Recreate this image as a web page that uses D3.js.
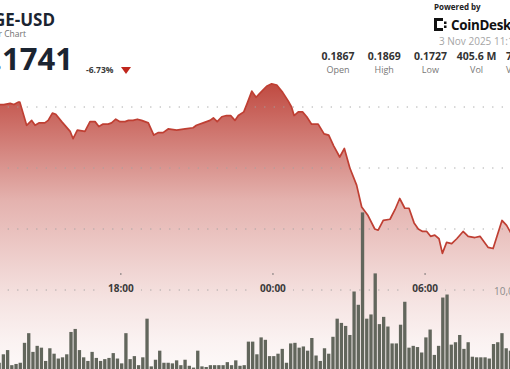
<!DOCTYPE html>
<html>
<head>
<meta charset="utf-8">
<script src="https://cdn.jsdelivr.net/npm/d3@7"></script>
<style>
  html, body { margin: 0; padding: 0; background: #fff; overflow: hidden; }
  svg { display: block; font-family: "Open Sans", "Noto Sans", sans-serif; }
</style>
</head>
<body>
<div id="chart"></div>
<script>
// DOGE-USD 24 hour chart, visible window only.

const priceTimesNov2 = [
    '13:14', '13:23', '13:38', '13:47', '13:57', '14:01', '14:17', '14:29', '14:37', '14:47',
    '15:00', '15:08', '15:18', '15:26', '15:40', '16:00', '16:07', '16:17', '16:35', '16:47',
    '16:59', '17:08', '17:18', '17:30', '17:38', '17:48', '17:58', '18:10', '18:18', '18:29',
    '18:39', '18:49', '19:05', '19:18', '19:29', '19:40', '19:52', '20:12', '20:32', '20:51',
    '20:59', '21:15', '21:31', '21:39', '21:48', '21:59', '22:10', '22:20', '22:30', '22:38',
    '22:51', '22:59', '23:10', '23:20', '23:31', '23:45', '23:57'
];
const priceTimesNov3 = [
    '00:09', '00:23', '00:36',
    '00:44', '00:50', '01:00', '01:10', '01:20', '01:31', '01:47', '02:01', '02:12', '02:24',
    '02:38', '02:49', '03:02', '03:18', '03:30', '03:45', '04:01', '04:09', '04:21', '04:37',
    '04:49', '05:00', '05:12', '05:22', '05:34', '05:44', '05:54', '06:04', '06:13', '06:23',
    '06:33', '06:41', '06:51', '07:03', '07:15', '07:30', '07:42', '07:58', '08:10', '08:29',
    '08:41', '09:02', '09:13', '09:21', '09:32'
];
const prices = [
    0.1852, 0.1852, 0.1853, 0.1852, 0.1854, 0.1854, 0.1835, 0.1839, 0.1835, 0.1837,
    0.1837, 0.1839, 0.1845, 0.1844, 0.1838, 0.1830, 0.1824, 0.1831, 0.1830, 0.1838,
    0.1838, 0.1834, 0.1836, 0.1836, 0.1837, 0.1840, 0.1838, 0.1838, 0.1839, 0.1839,
    0.1840, 0.1839, 0.1837, 0.1827, 0.1829, 0.1829, 0.1832, 0.1831, 0.1832, 0.1833,
    0.1835, 0.1837, 0.1839, 0.1841, 0.1838, 0.1842, 0.1843, 0.1843, 0.1839, 0.1843,
    0.1846, 0.1853, 0.1863, 0.1858, 0.1862, 0.1867, 0.1869, 0.1868, 0.1862, 0.1855,
    0.1850, 0.1843, 0.1846, 0.1846, 0.1842, 0.1836, 0.1836, 0.1828, 0.1827, 0.1818,
    0.1809, 0.1816, 0.1800, 0.1786, 0.1768, 0.1761, 0.1750, 0.1749, 0.1757, 0.1758,
    0.1766, 0.1775, 0.1767, 0.1767, 0.1755, 0.1750, 0.1748, 0.1748, 0.1744, 0.1745,
    0.1742, 0.1730, 0.1739, 0.1738, 0.1742, 0.1748, 0.1744, 0.1743, 0.1744, 0.1735,
    0.1734, 0.1757, 0.1753, 0.1748, 0.1741
];

// Volume per 10 minute bar (millions), first bar at 13:12.
const volumeStart = '2025-11-02 13:12';
const volumes = [
    1.2, 2.6, 3.3, 0.8, 1.0, 1.2, 4.5, 6.1, 3.0, 4.0, 3.7, 1.5, 3.6, 2.7, 1.9, 2.1, 2.6, 6.3, 6.8, 3.3,
    2.1, 1.5, 3.0, 2.0, 1.5, 1.8, 2.0, 2.8, 1.9, 1.1, 6.1, 1.8, 2.3, 0.8, 2.1, 8.5, 0.6, 1.7, 3.2, 1.2,
    1.2, 1.1, 1.6, 0.8, 1.7, 0.7, 0.4, 3.2, 0.6, 0.5, 0.8, 0.8, 0.8, 0.8, 1.3, 0.8, 1.6, 0.7, 0.8, 4.7,
    4.7, 2.6, 5.4, 5.0, 2.3, 2.3, 2.7, 3.5, 1.2, 4.4, 4.5, 3.7, 3.9, 3.2, 5.3, 2.4, 1.5, 3.6, 2.7, 5.5,
    8.5, 7.8, 7.3, 5.8, 13.0, 10.8, 26.1, 8.5, 9.2, 16.0, 7.6, 8.8, 7.2, 4.4, 4.4, 7.5, 11.3, 3.7, 4.0, 3.8,
    2.9, 5.4, 6.7, 2.5, 4.0, 12.0, 12.5, 4.2, 4.6, 5.8, 3.5, 4.6, 2.2, 2.1, 2.1, 2.1, 1.9, 4.3, 4.6, 6.1,
    3.6, 3.2
];

const priceGrid = [0.170, 0.175, 0.180, 0.185];
const timeTicks = ['2025-11-02 18:00', '2025-11-03 00:00', '2025-11-03 06:00'];
const stats = [
    { value: '0.1867', label: 'Open' },
    { value: '0.1869', label: 'High' },
    { value: '0.1727', label: 'Low' },
    { value: '405.6 M', label: 'Vol' },
    { value: '72.9 M', label: 'Vol USD' }
];

const width = 510;
const height = 369;
const parse = d3.utcParse('%Y-%m-%d %H:%M');

const priceData = priceTimesNov2.map(t => '2025-11-02 ' + t)
    .concat(priceTimesNov3.map(t => '2025-11-03 ' + t))
    .map((t, i) => ({ time: parse(t), price: prices[i] }));

const start = parse(volumeStart);
const volumeData = volumes.map((v, i) => ({ time: d3.utcMinute.offset(start, i * 10), vol: v }));

// Scales.
const x = d3.scaleUtc()
    .domain([parse('2025-11-02 13:14'), parse('2025-11-03 09:21')])
    .range([0, width]);
const y = d3.scaleLinear().domain([0.170, 0.185]).range([290, 107]);
const yVol = d3.scaleLinear().domain([0, 26]).range([370, 213]);

const svg = d3.select('#chart')
    .append('svg')
    .attr('width', width)
    .attr('height', height);

// Area gradient.
const grad = svg.append('defs').append('linearGradient')
    .attr('id', 'fade')
    .attr('gradientUnits', 'userSpaceOnUse')
    .attr('x1', 0).attr('x2', 0)
    .attr('y1', 83).attr('y2', 370);
[[0, 0.92], [0.41, 0.39], [0.76, 0.14], [0.9, 0.065], [1, 0.03]].forEach(s => {
    grad.append('stop')
        .attr('offset', s[0])
        .attr('stop-color', 'rgb(186,58,48)')
        .attr('stop-opacity', s[1]);
});

// Price area and line.
const area = d3.area()
    .x(d => x(d.time))
    .y0(370)
    .y1(d => y(d.price));
const line = d3.line()
    .x(d => x(d.time))
    .y(d => y(d.price));

svg.append('path')
    .datum(priceData)
    .attr('d', area)
    .attr('fill', 'url(#fade)');

// Dotted gridlines.
svg.append('g')
    .selectAll('line')
    .data(priceGrid)
    .enter()
    .append('line')
    .attr('x1', 0)
    .attr('x2', width)
    .attr('y1', d => y(d))
    .attr('y2', d => y(d))
    .attr('stroke', '#a0a0a0')
    .attr('stroke-width', 1)
    .attr('stroke-dasharray', '1.2,8.3')
    .attr('stroke-dashoffset', -7.7);

// Volume bars.
svg.append('g')
    .selectAll('rect')
    .data(volumeData)
    .enter()
    .append('rect')
    .attr('x', d => x(d3.utcMinute.offset(d.time, -5)) + 0.45)
    .attr('width', d => x(d3.utcMinute.offset(d.time, 5)) - x(d3.utcMinute.offset(d.time, -5)) - 0.9)
    .attr('y', d => yVol(d.vol))
    .attr('height', d => yVol(0) - yVol(d.vol))
    .attr('fill', '#62665c');

svg.append('path')
    .datum(priceData)
    .attr('d', line)
    .attr('fill', 'none')
    .attr('stroke', '#bf3f33')
    .attr('stroke-width', 1.7)
    .attr('stroke-linejoin', 'round');

// Label backing: white, then the same fade, so it blends into the area.
function backing(sel, bx, by, bw, bh) {
    sel.append('rect')
        .attr('x', bx).attr('y', by).attr('width', bw).attr('height', bh)
        .attr('fill', '#fff');
    sel.append('rect')
        .attr('x', bx).attr('y', by).attr('width', bw).attr('height', bh)
        .attr('fill', 'url(#fade)');
}

// Time axis labels.
const ticks = svg.append('g')
    .selectAll('g')
    .data(timeTicks.map(parse))
    .enter()
    .append('g')
    .attr('transform', d => `translate(${x(d)},0)`);
ticks.each(function() { backing(d3.select(this), -20, 284, 40, 12); });
ticks.append('circle')
    .attr('cy', 274)
    .attr('r', 0.8)
    .attr('fill', '#666');
ticks.append('text')
    .attr('y', 292)
    .attr('text-anchor', 'middle')
    .attr('font-size', 10)
    .attr('font-weight', 700)
    .attr('fill', '#3a3a3a')
    .text(d => d3.utcFormat('%H:%M')(d));

// Volume axis label at the right edge.
backing(svg, 489, 285, 21, 11);
svg.append('text')
    .attr('x', 494)
    .attr('y', 294.5)
    .attr('font-size', 10)
    .attr('fill', '#8c8c8c')
    .text('10,000,000');

// Header, left.
svg.append('text')
    .attr('x', 55).attr('y', 26)
    .attr('text-anchor', 'end')
    .attr('font-size', 17).attr('font-weight', 700)
    .attr('fill', '#1b2431')
    .text('DOGE-USD');
svg.append('text')
    .attr('x', 26).attr('y', 36.5)
    .attr('text-anchor', 'end')
    .attr('font-size', 8.5)
    .attr('fill', '#707070')
    .text('24 Hour Chart');
svg.append('text')
    .attr('x', 73).attr('y', 70)
    .attr('text-anchor', 'end')
    .attr('font-size', 31).attr('font-weight', 700)
    .attr('fill', '#1b2431')
    .text('0.1741');
svg.append('text')
    .attr('x', 86).attr('y', 72.5)
    .attr('font-size', 8.5).attr('font-weight', 700)
    .attr('fill', '#3a3a3a')
    .text('-6.73%');
svg.append('path')
    .attr('d', 'M121,67L131,67L126,74Z')
    .attr('fill', '#c0261c');

// Header, right.
svg.append('text')
    .attr('x', 434).attr('y', 10)
    .attr('font-size', 8).attr('font-weight', 700)
    .attr('fill', '#222')
    .text('Powered by');

const logo = svg.append('g').attr('fill', '#111');
[[434, 18, 3, 13], [434, 18, 9, 3], [434, 28, 9, 3], [444, 21.5, 2.5, 2.5], [444, 25.5, 2.5, 2.5]]
    .forEach(r => logo.append('rect')
        .attr('x', r[0]).attr('y', r[1]).attr('width', r[2]).attr('height', r[3]));
svg.append('text')
    .attr('x', 451).attr('y', 30)
    .attr('font-size', 13.4).attr('font-weight', 700)
    .attr('letter-spacing', -0.3)
    .attr('fill', '#111')
    .text('CoinDesk');
svg.append('text')
    .attr('x', 439).attr('y', 45)
    .attr('font-size', 10)
    .attr('fill', '#a5a5a5')
    .text('3 Nov 2025 11:12');

const statCols = svg.append('g')
    .selectAll('g')
    .data(stats)
    .enter()
    .append('g')
    .attr('transform', (d, i) => `translate(${338 + i * 46.2},0)`);
statCols.append('text')
    .attr('y', 60)
    .attr('text-anchor', 'middle')
    .attr('font-size', 10.5).attr('font-weight', 700)
    .attr('fill', '#333')
    .text(d => d.value);
statCols.append('text')
    .attr('y', 72.5)
    .attr('text-anchor', 'middle')
    .attr('font-size', 9)
    .attr('fill', '#777')
    .text(d => d.label);
</script>
</body>
</html>
